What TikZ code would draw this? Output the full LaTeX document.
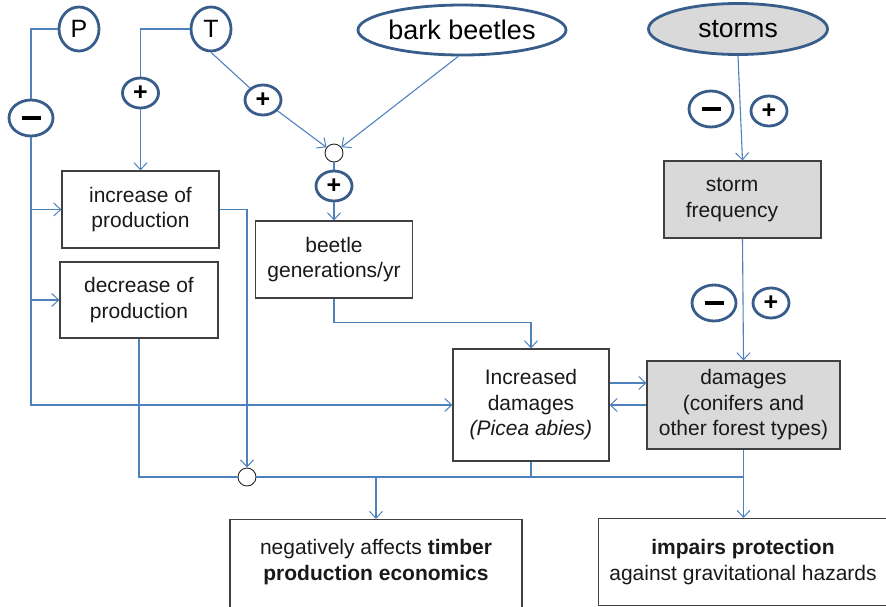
\documentclass[tikz,border=0pt]{standalone}
\usepackage{fontspec}
\setmainfont{Liberation Sans}
\usetikzlibrary{arrows.meta,shapes.geometric}
\definecolor{wire}{HTML}{4F81BD}
\definecolor{rim}{HTML}{385D8A}
\definecolor{shade}{HTML}{D9D9D9}
\newcommand{\minussign}{\rule[-1.8pt]{19pt}{3.8pt}}
\newcommand{\plussign}{\fontsize{25}{25}\selectfont\textbf{+}}
\begin{document}
\begin{tikzpicture}[x=1pt,y=-1pt,
  txt/.style={font=\fontsize{21}{25.5}\selectfont, align=center, text=black!90},
  box/.style={draw=black!75, line width=1.1pt, inner sep=0pt, txt},
  greybox/.style={box, fill=shade},
  factor/.style={ellipse, draw=rim, line width=2.8pt, inner sep=0pt, fill=white},
  sign/.style={ellipse, draw=rim, line width=2.8pt, inner sep=0pt, fill=white},
  minus/.style={sign, minimum width=44pt, minimum height=36pt},
  plus/.style={sign, minimum width=36pt, minimum height=30pt},
  junction/.style={circle, draw=black!85, line width=0.9pt, fill=white, minimum size=18pt, inner sep=0pt},
  wire/.style={draw=wire, line width=1.1pt},
  flow/.style={wire, -{Straight Barb[length=7pt,width=13pt,line width=1pt]}},
]
\useasboundingbox (0,0) rectangle (886,606);

% driving factors
\node[factor, minimum width=40pt, minimum height=44pt, font=\fontsize{25}{25}\selectfont] (P) at (79,29) {P};
\node[factor, minimum width=40pt, minimum height=44pt, font=\fontsize{25}{25}\selectfont] (T) at (211,29) {T};
\node[factor, minimum width=180pt, minimum height=50pt, font=\fontsize{27}{27}\selectfont] (bb) at (462,30) {bark beetles};
\node[factor, fill=shade, minimum width=179pt, minimum height=51pt, font=\fontsize{26.5}{26.5}\selectfont] (st) at (738,29) {storms};

% sign markers
\node[minus] (Pm) at (31,118) {\minussign};
\node[plus] (Tp) at (140.5,93) {\plussign};
\node[plus] (Tq) at (263,100) {\plussign};
\node[plus] (Gp) at (334,186) {\plussign};
\node[minus] (Sm1) at (711,109) {\minussign};
\node[plus] (Sp1) at (769,111) {\plussign};
\node[minus] (Sm2) at (714,303) {\minussign};
\node[plus] (Sp2) at (771,303) {\plussign};

% boxes
\node[box, minimum width=157pt, minimum height=77pt] (inc) at (140.5,209.5) {increase of\\ production};
\node[box, minimum width=158pt, minimum height=76pt] (dec) at (139,300) {decrease of\\ production};
\node[box, minimum width=157pt, minimum height=77pt] (beet) at (334,259.5) {beetle\\ generations/yr};
\node[box, minimum width=156pt, minimum height=112pt] (incd) at (531,405) {Increased\\ damages\\ \textit{(Picea abies)}};
\node[greybox, minimum width=157pt, minimum height=77pt] (sf) at (742.5,199.5) {};
\node[txt] (sftxt) at (732,200) {storm\\ frequency};
\node[greybox, minimum width=193pt, minimum height=88pt] (dm) at (743.5,405) {damages\\ (conifers and\\ other forest types)};
\node[box, minimum width=292pt, minimum height=100pt, anchor=north] (timb) at (376,519) {};
\node[txt] (timbtxt) at (376,562) {negatively affects \textbf{timber}\\ \textbf{production economics}};
\node[box, minimum width=300pt, minimum height=87pt, anchor=north west] (imp) at (598,518) {};
\node[txt] (imptxt) at (743,562) {\textbf{impairs protection}\\ against gravitational hazards};

% junctions
\node[junction] (j1) at (334,153) {};
\node[junction] (j2) at (247,477) {};

% precipitation
\draw[wire] (P.west) -| (Pm.north);
\draw[flow] (Pm.south) |- (incd.west);
\draw[flow] (Pm.south |- inc.west) -- (inc.west);
\draw[flow] (Pm.south |- dec.west) -- (dec.west);

% temperature
\draw[wire] (T.west) -| (Tp.north);
\draw[flow] (Tp.south) -- (inc.north);
\draw[wire] (T.south) -- (Tq);
\draw[flow] (Tq) -- (j1);
\draw[flow] (bb.262) -- (j1);
\draw[wire] (j1) -- (Gp);
\draw[flow] (Gp) -- (beet.north);
\draw[flow] (beet.south) -- ++(0,24) -| (incd.north);

% storms
\draw[flow] (st.south) -- (sf.north);
\draw[flow] (sf.south) -- (dm.north);
\draw[flow] ([yshift=22pt]incd.east) -- ([yshift=22pt]incd.east -| dm.west);
\draw[flow] (dm.west) -- (incd.east);

% consequences
\draw[flow] (inc.east) -| (j2.north);
\draw[wire] (dec.south) |- (j2.west);
\coordinate (hub) at (dm.south |- j2);
\draw[wire] (j2.east) -- (hub);
\draw[wire] (incd.south) -- (incd.south |- j2);
\draw[flow] (timb.north |- j2) -- (timb.north);
\draw[flow] (dm.south) -- (dm.south |- imp.north);
\end{tikzpicture}
\end{document}
